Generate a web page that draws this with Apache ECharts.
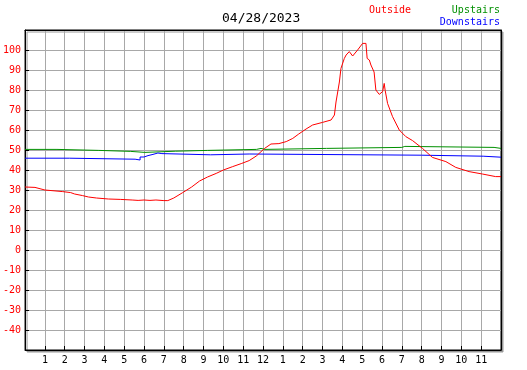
<!DOCTYPE html>
<html>
<head>
<meta charset="utf-8">
<script src="https://cdn.jsdelivr.net/npm/echarts@6/dist/echarts.min.js"></script>
<style>
  html, body { margin: 0; padding: 0; background: #fff; }
  #grafico { width: 527px; height: 370px; }
</style>
</head>
<body>
<div id="grafico"></div>
<script>
// hours since midnight, temperatures
const horasOutside = [0, 0.5, 0.6, 1.0, 1.1, 1.9, 2.3, 2.5, 2.9, 3.2, 3.6, 4.2, 4.8, 5.4, 5.7, 6.0, 6.3, 6.6, 7.0, 7.2,
  7.5, 7.95, 8.4, 8.8, 9.2, 9.64, 10.0, 10.47, 10.9, 11.3, 11.66, 12.08, 12.4, 12.8, 13.17, 13.5, 13.8, 14.17, 14.5, 15.0,
  15.43, 15.6, 15.68, 15.85, 15.93, 16.1, 16.19, 16.35, 16.52, 16.77, 17.02, 17.1, 17.19, 17.25, 17.36, 17.44, 17.6, 17.69,
  17.86, 18.03, 18.11, 18.16, 18.28, 18.53, 18.87, 19.2, 19.54, 20.04, 20.54, 21.22, 21.72, 22.39, 23.06, 23.73, 24]
const outside = [31.5, 31.3, 30.3, 30.0, 29.5, 29.2, 28.7, 28.0, 27.2, 26.5, 26.0, 25.5, 25.3, 25.0, 24.8, 25.0, 24.8, 25.0, 24.7, 24.7,
  26.0, 28.7, 31.5, 34.5, 36.5, 38.3, 40.0, 41.7, 43.2, 44.7, 47.0, 50.8, 53.0, 53.2, 54.2, 55.8, 58.0, 60.5, 62.5, 63.8,
  65.0, 67.5, 74.0, 84.0, 90.8, 95.8, 97.5, 99.2, 97.0, 100.0, 103.3, 104.2, 103.3, 95.8, 95.0, 92.5, 89.0, 80.0,
  77.8, 79.2, 83.3, 79.7, 73.3, 66.7, 60.0, 56.7, 54.7, 50.8, 46.3, 44.2, 41.3, 39.2, 38.0, 36.7, 36.7]

const horasUpstairs = [0, 1.61, 3.72, 5.33, 6.04, 7.6, 9.2, 11.67, 11.9, 12.1, 15.2, 19.0, 19.15, 23.65, 24]
const upstairs = [50.3, 49.8, 49.3, 48.8, 49.4, 49.8, 50.3, 50.8, 50.3, 50.8, 51.3, 51.8, 51.3, 50.8, 50.8]

const horasDownstairs = [0, 2.23, 5.55, 5.65, 5.8, 6.0, 6.2, 6.45, 6.7, 6.9, 9.36, 11.3, 20.0, 23.1, 24]
const downstairs = [45.9, 45.4, 45.4, 45.0, 46.5, 47.2, 47.8, 48.5, 48.2, 47.6, 48.0, 47.4, 46.9, 46.4, 46.4]

const fonte = "'DejaVu Sans Mono', monospace"
const pares = (hs, vs) => hs.map((h, i) => [h, vs[i]])

let myChart = echarts.init(document.getElementById("grafico"))

let option = {
  animation: false,
  backgroundColor: "#fff",
  graphic: [
    { type: "text", left: 222, top: 12, style: { text: "04/28/2023", font: "13px " + fonte, fill: "#000" } },
    { type: "text", left: 369, top: 5, style: { text: "Outside", font: "10px " + fonte, fill: "#ff0000" } },
    { type: "text", right: 27, top: 5, style: { text: "Upstairs", font: "10px " + fonte, fill: "#009000" } },
    { type: "text", right: 27, top: 17, style: { text: "Downstairs", font: "10px " + fonte, fill: "#0000ff" } },
  ],
  grid: {
    left: 25,
    right: 26,
    top: 30,
    bottom: 20,
    show: true,
    backgroundColor: "#fff",
    borderColor: "#000",
    borderWidth: 1,
    shadowColor: "#999",
    shadowOffsetX: 2,
    shadowOffsetY: 2,
    shadowBlur: 0,
  },
  xAxis: [
    {
      type: "value",
      min: 0,
      max: 24,
      interval: 1,
      axisLine: { onZero: false, lineStyle: { color: "#000", width: 1 } },
      axisTick: { inside: true, length: 4, lineStyle: { color: "#000" } },
      axisLabel: {
        color: "#000",
        fontFamily: fonte,
        fontSize: 10,
        margin: 5,
        formatter: (h) => (h === 0 || h === 24 ? "" : String(h > 12 ? h - 12 : h)),
      },
      splitLine: { lineStyle: { color: "#a8a8a8", width: 1 } },
    },
    {
      type: "value",
      position: "top",
      min: 0,
      max: 24,
      axisLine: { show: true, onZero: false, lineStyle: { color: "#000" } },
      axisTick: { show: false },
      axisLabel: { show: false },
      splitLine: { show: false },
    },
  ],
  yAxis: [
    {
      type: "value",
      min: -50,
      max: 110,
      interval: 10,
      axisLine: { show: true, onZero: false, lineStyle: { color: "#000", width: 1 } },
      axisTick: { show: true, inside: true, length: 4, lineStyle: { color: "#000" } },
      axisLabel: {
        color: "#ff0000",
        fontFamily: fonte,
        fontSize: 10,
        margin: 4,
        formatter: (v) => (v === -50 || v === 110 ? "" : String(v)),
      },
      splitLine: { lineStyle: { color: "#a8a8a8", width: 1 } },
    },
    {
      type: "value",
      position: "right",
      min: -50,
      max: 110,
      axisLine: { show: true, onZero: false, lineStyle: { color: "#000" } },
      axisTick: { show: false },
      axisLabel: { show: false },
      splitLine: { show: false },
    },
  ],
  series: [
    {
      name: "Upstairs",
      type: "line",
      step: "end",
      data: pares(horasUpstairs, upstairs),
      showSymbol: false,
      lineStyle: { color: "#009000", width: 1 },
    },
    {
      name: "Downstairs",
      type: "line",
      step: "end",
      data: pares(horasDownstairs, downstairs),
      showSymbol: false,
      lineStyle: { color: "#0000ff", width: 1 },
    },
    {
      name: "Outside",
      type: "line",
      data: pares(horasOutside, outside),
      showSymbol: false,
      lineStyle: { color: "#ff0000", width: 1 },
    },
  ],
}

option && myChart.setOption(option)
</script>
</body>
</html>
